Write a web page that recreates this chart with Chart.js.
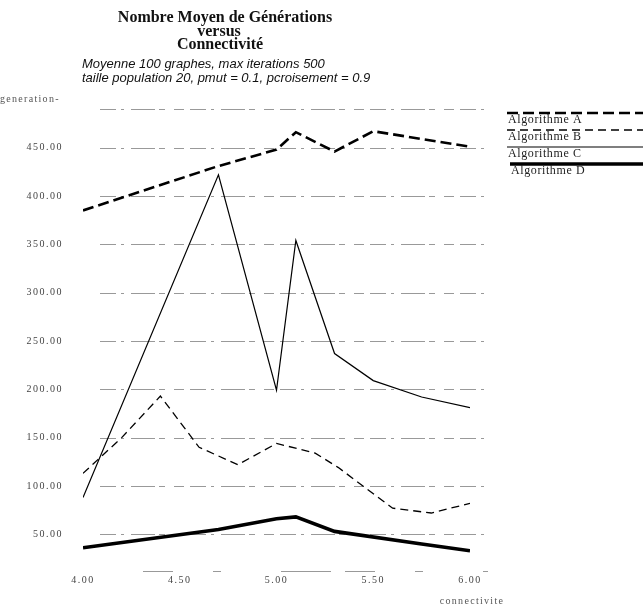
<!DOCTYPE html>
<html>
<head>
<meta charset="utf-8">
<title>Nombre Moyen de Générations versus Connectivité</title>
<script src="https://cdn.jsdelivr.net/npm/chart.js@4.4.0/dist/chart.umd.min.js"></script>
<style>
  html, body { margin: 0; padding: 0; background: #fff; }
  #graphe { display: block; }
</style>
</head>
<body>
<canvas id="graphe" width="643" height="609"></canvas>
<script>
// connectivité (x) et nombre moyen de générations (y) pour chaque algorithme
const connectA = [4.0, 4.7, 5.0, 5.1, 5.3, 5.5, 6.0];
const genA = [385, 431, 448, 466, 446, 467, 451];

const connectB = [4.0, 4.2, 4.4, 4.6, 4.8, 5.0, 5.2, 5.32, 5.6, 5.8, 6.0];
const genB = [113, 150, 193, 140, 122, 144, 134, 119, 77, 72, 82];

const connectC = [4.0, 4.7, 5.0, 5.1, 5.3, 5.5, 5.75, 6.0];
const genC = [88, 422, 199, 354, 237, 209, 192, 181];

const connectD = [4.0, 4.7, 5.0, 5.1, 5.3, 5.75, 6.0];
const genD = [36, 55, 66, 68, 53, 40, 33];

const noms = ["Algorithme A", "Algorithme B", "Algorithme C", "Algorithme D"];
const xTicks = [4.0, 4.5, 5.0, 5.5, 6.0];
const yTicks = [50, 100, 150, 200, 250, 300, 350, 400, 450];

const SERIF = "'Liberation Serif', 'Times New Roman', serif";
const SANS = "'Liberation Sans', Arial, sans-serif";

// style de trait de chaque courbe
const traits = [
  { largeur: 2.6, tirets: [11, 5] },
  { largeur: 1.3, tirets: [8, 5] },
  { largeur: 1.2, tirets: [] },
  { largeur: 3.6, tirets: [] }
];

function points(xs, ys) {
  return xs.map((x, i) => ({ x: x, y: ys[i] }));
}

const series = [points(connectA, genA), points(connectB, genB), points(connectC, genC), points(connectD, genD)];

// lignes horizontales pointillées derrière les courbes
const grille = {
  id: "grille",
  beforeDatasetsDraw(chart) {
    const ctx = chart.ctx;
    const y = chart.scales.y;
    const area = chart.chartArea;
    ctx.save();
    ctx.strokeStyle = "#999";
    ctx.lineWidth = 1;
    ctx.setLineDash([16, 5, 3, 7, 24, 4, 6, 9, 10, 6]);
    const valeurs = yTicks.concat([y.max]);
    valeurs.forEach(v => {
      const py = Math.round(y.getPixelForValue(v)) + 0.5;
      ctx.beginPath();
      ctx.moveTo(area.left + 17, py);
      ctx.lineTo(area.right + 18, py);
      ctx.stroke();
    });
    // trait du bas, très discontinu
    ctx.setLineDash([30, 40, 8, 60, 50, 14]);
    const pb = Math.round(area.bottom) + 0.5;
    ctx.beginPath();
    ctx.moveTo(area.left + 60, pb);
    ctx.lineTo(area.right + 18, pb);
    ctx.stroke();
    ctx.restore();
  }
};

// titres, légende et noms des axes
const textes = {
  id: "textes",
  beforeDraw(chart) {
    chart.ctx.letterSpacing = "1.5px";
  },
  afterDraw(chart) {
    const ctx = chart.ctx;
    ctx.save();
    ctx.letterSpacing = "0px";
    ctx.fillStyle = "#111";
    ctx.textAlign = "center";
    ctx.textBaseline = "alphabetic";
    ctx.font = "bold 16px " + SERIF;
    ctx.fillText("Nombre Moyen de Générations", 225, 22);
    ctx.fillText("versus", 219, 35.5);
    ctx.fillText("Connectivité", 220, 49);

    ctx.textAlign = "left";
    ctx.font = "italic 13px " + SANS;
    ctx.fillText("Moyenne 100 graphes, max iterations 500", 82, 68);
    ctx.fillText("taille population 20, pmut = 0.1, pcroisement = 0.9", 82, 82);

    ctx.fillStyle = "#555";
    ctx.letterSpacing = "1.3px";
    ctx.font = "10px " + SERIF;
    ctx.fillText("generation-", 0, 102);
    ctx.textAlign = "center";
    ctx.fillText("connectivite", 472, 604);

    // légende : trait au-dessus du nom
    ctx.letterSpacing = "0.6px";
    ctx.textAlign = "left";
    ctx.font = "12px " + SERIF;
    const lignes = [113, 130, 147, 164];
    noms.forEach((nom, i) => {
      const t = traits[i];
      const x0 = i === 3 ? 510 : 507;
      ctx.strokeStyle = "#000";
      ctx.lineWidth = t.largeur;
      ctx.setLineDash(t.tirets);
      ctx.beginPath();
      ctx.moveTo(x0, lignes[i]);
      ctx.lineTo(643, lignes[i]);
      ctx.stroke();
      ctx.fillStyle = "#222";
      ctx.fillText(nom, x0 + 1, lignes[i] + 10);
    });
    ctx.restore();
  }
};

const policeGraduation = { family: SERIF, size: 10 };

new Chart(document.getElementById("graphe"), {
  type: "line",
  data: {
    datasets: series.map((s, i) => ({
      label: noms[i],
      data: s,
      borderColor: "#000",
      borderWidth: traits[i].largeur,
      borderDash: traits[i].tirets,
      pointRadius: 0,
      tension: 0,
      fill: false
    }))
  },
  options: {
    responsive: false,
    animation: false,
    layout: { padding: { top: 109, right: 173, left: 0, bottom: 0 } },
    plugins: {
      legend: { display: false },
      title: { display: false },
      tooltip: { enabled: false }
    },
    scales: {
      x: {
        type: "linear",
        min: 4,
        max: 6,
        afterBuildTicks: s => { s.ticks = xTicks.map(v => ({ value: v })); },
        afterFit: s => { s.height = 38; },
        ticks: {
          callback: v => Number(v).toFixed(2),
          font: policeGraduation,
          color: "#444",
          padding: 3,
          maxRotation: 0
        },
        grid: { display: false, drawTicks: false },
        border: { display: false }
      },
      y: {
        min: 12,
        max: 490,
        afterBuildTicks: s => { s.ticks = yTicks.map(v => ({ value: v })); },
        afterFit: s => { s.width = 83; },
        ticks: {
          callback: v => Number(v).toFixed(2),
          font: policeGraduation,
          color: "#444",
          padding: 20
        },
        grid: { display: false, drawTicks: false },
        border: { display: false }
      }
    }
  },
  plugins: [grille, textes]
});
</script>
</body>
</html>
